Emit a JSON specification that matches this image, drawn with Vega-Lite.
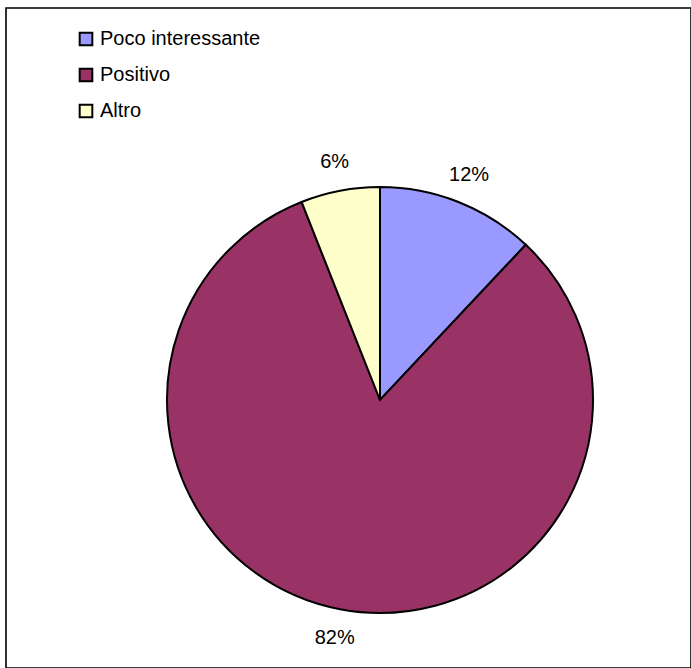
{
  "$schema": "https://vega.github.io/schema/vega-lite/v6.json",
  "width": 685,
  "height": 660,
  "autosize": "none",
  "padding": {"left": 6, "top": 8, "right": 0, "bottom": 0},
  "background": "white",
  "config": {
    "view": {"stroke": "black", "strokeWidth": 1.6},
    "font": "Liberation Sans"
  },
  "data": {
    "values": [
      {"category": "Poco interessante", "value": 0.12, "ord": 1},
      {"category": "Positivo", "value": 0.82, "ord": 2},
      {"category": "Altro", "value": 0.06, "ord": 3}
    ]
  },
  "encoding": {
    "theta": {"field": "value", "type": "quantitative", "stack": true},
    "order": {"field": "ord", "type": "quantitative"},
    "x": {"value": 374},
    "y": {"value": 392}
  },
  "layer": [
    {
      "mark": {"type": "arc", "outerRadius": 213, "stroke": "black", "strokeWidth": 2},
      "encoding": {
        "color": {
          "field": "category",
          "type": "nominal",
          "sort": ["Poco interessante", "Positivo", "Altro"],
          "scale": {
            "domain": ["Poco interessante", "Positivo", "Altro"],
            "range": ["#9999FF", "#993366", "#FFFFCC"]
          },
          "legend": {
            "title": null,
            "orient": "none",
            "legendX": 70,
            "legendY": 21,
            "padding": 0,
            "symbolType": "square",
            "symbolSize": 160,
            "symbolStrokeColor": "black",
            "symbolStrokeWidth": 2,
            "labelFont": "Liberation Sans",
            "labelFontSize": 20,
            "labelColor": "black",
            "labelOffset": 4,
            "labelLimit": 400,
            "rowPadding": 14
          }
        }
      }
    },
    {
      "mark": {"type": "text", "radius": 242, "fontSize": 20, "font": "Liberation Sans", "color": "black", "align": "center", "baseline": "middle"},
      "encoding": {
        "detail": {"field": "category", "type": "nominal"},
        "text": {"field": "value", "type": "quantitative", "format": ".0%"}
      }
    }
  ]
}
